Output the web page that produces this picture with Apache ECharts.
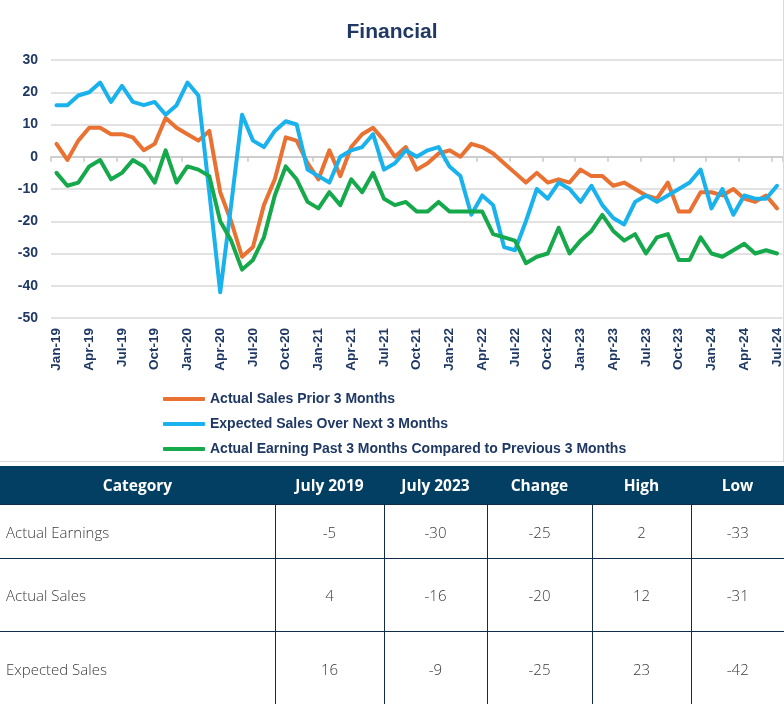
<!DOCTYPE html>
<html>
<head>
<meta charset="utf-8">
<script src="https://cdn.jsdelivr.net/npm/echarts@6/dist/echarts.min.js"></script>
<style>
  html, body { margin: 0; padding: 0; background: #fff; }
  #wrap { position: relative; width: 784px; height: 704px; overflow: hidden; }
  #chart { position: absolute; left: 0; top: 0; width: 784px; height: 462px; }
  .bordR { position: absolute; left: 783px; top: 0; width: 1px; height: 462px; background: #d9d9d9; }
  .bordB { position: absolute; left: 0; top: 461px; width: 784px; height: 1px; background: #d9d9d9; }
  table { position: absolute; left: 0; top: 466px; width: 784px; border-collapse: collapse; table-layout: fixed; font-family: "Open Sans", "Noto Sans", sans-serif; }
  th { background: #033f62; color: #fff; font-weight: 700; font-size: 15.5px; height: 38px; padding: 0; text-align: center; }
  td { color: #3a3a3a; font-weight: 300; font-size: 15px; text-align: center; padding: 0; border-top: 1px solid #0e2d4d; border-left: 1px solid #0e2d4d; }
  td.cat { text-align: left; padding-left: 6px; border-left: none; }
</style>
</head>
<body>
<div id="wrap">
  <div id="chart"></div>
  <div class="bordR"></div>
  <div class="bordB"></div>
  <table id="tbl"></table>
</div>
<script>
const categories = [
  'Jan-19','Feb-19','Mar-19','Apr-19','May-19','Jun-19','Jul-19','Aug-19','Sep-19','Oct-19','Nov-19','Dec-19',
  'Jan-20','Feb-20','Mar-20','Apr-20','May-20','Jun-20','Jul-20','Aug-20','Sep-20','Oct-20','Nov-20','Dec-20',
  'Jan-21','Feb-21','Mar-21','Apr-21','May-21','Jun-21','Jul-21','Aug-21','Sep-21','Oct-21','Nov-21','Dec-21',
  'Jan-22','Feb-22','Mar-22','Apr-22','May-22','Jun-22','Jul-22','Aug-22','Sep-22','Oct-22','Nov-22','Dec-22',
  'Jan-23','Feb-23','Mar-23','Apr-23','May-23','Jun-23','Jul-23','Aug-23','Sep-23','Oct-23','Nov-23','Dec-23',
  'Jan-24','Feb-24','Mar-24','Apr-24','May-24','Jun-24','Jul-24'
];
const actualSales = [
  4, -1, 5, 9, 9, 7, 7, 6, 2, 4, 12, 9,
  7, 5, 8, -11, -20, -31, -28, -15, -7, 6, 5, -2,
  -7, 2, -6, 3, 7, 9, 5, 0, 3, -4, -2, 1,
  2, 0, 4, 3, 1, -2, -5, -8, -5, -8, -7, -8,
  -4, -6, -6, -9, -8, -10, -12, -13, -8, -17, -17, -11,
  -11, -12, -10, -13, -14, -12, -16
];
const expectedSales = [
  16, 16, 19, 20, 23, 17, 22, 17, 16, 17, 13, 16,
  23, 19, -11, -42, -15, 13, 5, 3, 8, 11, 10, -4,
  -6, -8, 0, 2, 3, 7, -4, -2, 2, 0, 2, 3,
  -3, -6, -18, -12, -15, -28, -29, -20, -10, -13, -8, -10,
  -14, -9, -15, -19, -21, -14, -12, -14, -12, -10, -8, -4,
  -16, -10, -18, -12, -13, -13, -9
];
const actualEarnings = [
  -5, -9, -8, -3, -1, -7, -5, -1, -3, -8, 2, -8,
  -3, -4, -6, -20, -26, -35, -32, -25, -12, -3, -7, -14,
  -16, -11, -15, -7, -11, -5, -13, -15, -14, -17, -17, -14,
  -17, -17, -17, -17, -24, -25, -26, -33, -31, -30, -22, -30,
  -26, -23, -18, -23, -26, -24, -30, -25, -24, -32, -32, -25,
  -30, -31, -29, -27, -30, -29, -30
];
const seriesNames = [
  'Actual Sales Prior 3 Months',
  'Expected Sales Over Next 3 Months',
  'Actual Earning Past 3 Months Compared to Previous 3 Months'
];
const yTicks = { min: -50, max: 30, interval: 10 };

const tableHeader = ['Category', 'July 2019', 'July 2023', 'Change', 'High', 'Low'];
const rowLabels = ['Actual Earnings', 'Actual Sales', 'Expected Sales'];
const colJuly2019 = [-5, 4, 16];
const colJuly2023 = [-30, -16, -9];
const colChange = [-25, -20, -25];
const colHigh = [2, 12, 23];
const colLow = [-33, -31, -42];

// table
(function () {
  const widths = [275, 109, 103, 105, 99, 93];
  const heights = [54, 73, 74];
  let html = '<colgroup>' + widths.map(w => '<col style="width:' + w + 'px">').join('') + '</colgroup>';
  html += '<tr>' + tableHeader.map(h => '<th>' + h + '</th>').join('') + '</tr>';
  rowLabels.forEach((lab, i) => {
    html += '<tr style="height:' + heights[i] + 'px"><td class="cat">' + lab + '</td>' +
      [colJuly2019[i], colJuly2023[i], colChange[i], colHigh[i], colLow[i]].map(v => '<td>' + v + '</td>').join('') + '</tr>';
  });
  document.getElementById('tbl').innerHTML = html;
})();

const navy = '#1f3864';
const colors = ['#e97132', '#19b2ec', '#16a94b'];
const chart = echarts.init(document.getElementById('chart'), null, { renderer: 'canvas' });
const seriesData = [actualSales, expectedSales, actualEarnings];
chart.setOption({
  animation: false,
  color: colors,
  title: {
    text: 'Financial',
    left: 'center',
    top: 17,
    textStyle: { color: navy, fontSize: 21, fontWeight: 'bold', fontFamily: 'Liberation Sans, Arial, sans-serif' }
  },
  legend: {
    orient: 'vertical',
    left: 163,
    top: 391,
    height: 90,
    padding: 0,
    itemWidth: 42,
    itemHeight: 4,
    itemGap: 9,
    icon: 'roundRect',
    data: seriesNames,
    textStyle: { color: navy, fontSize: 14, fontWeight: 'bold', lineHeight: 16, fontFamily: 'Liberation Sans, Arial, sans-serif' }
  },
  grid: { left: 51, right: 1, top: 60, height: 258, containLabel: false },
  xAxis: [
    {
      type: 'category',
      data: categories,
      boundaryGap: true,
      position: 'bottom',
      axisLine: { show: false, onZero: false },
      axisTick: { show: false },
      axisLabel: {
        interval: 2, rotate: 90, margin: 10,
        color: navy, fontSize: 13.5, fontWeight: 'bold', fontFamily: 'Liberation Sans, Arial, sans-serif'
      },
      splitLine: { show: false }
    },
    {
      type: 'category',
      data: categories,
      boundaryGap: true,
      position: 'bottom',
      axisLine: { show: true, onZero: true, lineStyle: { color: '#c8c8c8', width: 1.5 } },
      axisTick: { show: true, interval: 2, length: 5, lineStyle: { color: '#c8c8c8', width: 1.5 } },
      axisLabel: { show: false },
      splitLine: { show: false }
    }
  ],
  yAxis: {
    type: 'value',
    min: yTicks.min,
    max: yTicks.max,
    interval: yTicks.interval,
    axisLine: { show: false },
    axisTick: { show: false },
    axisLabel: { margin: 13, color: navy, fontSize: 14, fontWeight: 'bold', fontFamily: 'Liberation Sans, Arial, sans-serif' },
    splitLine: { lineStyle: { color: '#d9d9d9', width: 1.5 } }
  },
  series: seriesNames.map((name, k) => ({
    name: name,
    type: 'line',
    xAxisIndex: 0,
    data: seriesData[k],
    showSymbol: false,
    symbol: 'none',
    lineStyle: { width: 4, color: colors[k], cap: 'round', join: 'round' },
    itemStyle: { color: colors[k] }
  }))
});
</script>
</body>
</html>
